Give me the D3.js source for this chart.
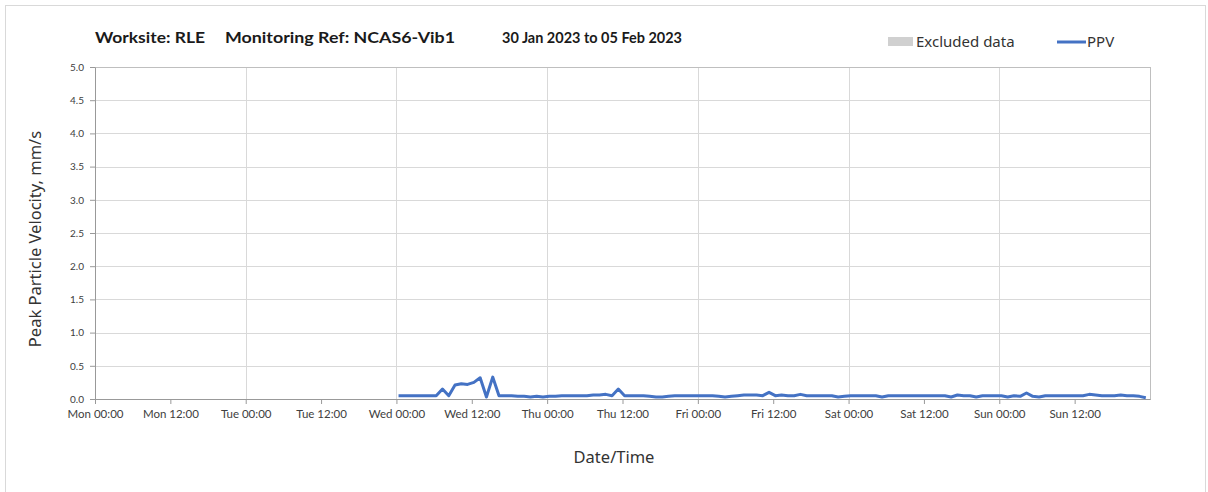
<!DOCTYPE html>
<html>
<head>
<meta charset="utf-8">
<script src="https://cdn.jsdelivr.net/npm/d3@7"></script>
<style>
  body { margin: 0; background: #fff; }
  svg { display: block; }
</style>
</head>
<body>
<svg width="1208" height="492"></svg>
<script>
// PPV readings, hourly, starting Wed 01 Feb 2023 00:20
var startTime = "2023-02-01T00:20:00Z";
var wedValues = [0.05,0.05,0.05,0.05,0.05,0.05,0.05,0.15,0.05,0.21,0.23,0.22,0.25,0.32,0.03,0.33,0.05,0.05,0.05,0.04,0.04,0.03,0.04,0.03];
var thuValues = [0.04,0.04,0.05,0.05,0.05,0.05,0.05,0.06,0.06,0.07,0.05,0.15,0.05,0.05,0.05,0.05,0.04,0.03,0.03,0.04,0.05,0.05,0.05,0.05];
var friValues = [0.05,0.05,0.05,0.04,0.03,0.04,0.05,0.06,0.06,0.06,0.05,0.10,0.05,0.06,0.05,0.05,0.07,0.05,0.05,0.05,0.05,0.05,0.03,0.04];
var satValues = [0.05,0.05,0.05,0.05,0.05,0.03,0.05,0.05,0.05,0.05,0.05,0.05,0.05,0.05,0.05,0.05,0.03,0.06,0.05,0.05,0.03,0.05,0.05,0.05];
var sunValues = [0.05,0.03,0.05,0.04,0.09,0.04,0.03,0.05,0.05,0.05,0.05,0.05,0.05,0.05,0.07,0.06,0.05,0.05,0.05,0.06,0.05,0.05,0.04,0.02];

var yTicks = [0, 0.5, 1, 1.5, 2, 2.5, 3, 3.5, 4, 4.5, 5];
var domainStart = "2023-01-30T00:00:00Z";
var domainEnd = "2023-02-06T00:00:00Z";

var titleParts = ["Worksite: RLE", "Monitoring Ref: NCAS6-Vib1", "30 Jan 2023 to 05 Feb 2023"];
var legendItems = ["Excluded data", "PPV"];

var ppv = wedValues.concat(thuValues, friValues, satValues, sunValues);
var t0 = new Date(startTime);
var data = ppv.map(function (v, i) {
    return { time: new Date(t0.getTime() + i * 3600000), value: v };
});

var margin = {top: 67, right: 58, bottom: 93, left: 95};
var width = 1208 - margin.left - margin.right;
var height = 492 - margin.top - margin.bottom;

var svg = d3.select("svg");

// outer chart border
svg.append("rect")
    .attr("x", 5.5).attr("y", 5.5)
    .attr("width", 1200).attr("height", 500)
    .attr("fill", "none")
    .attr("stroke", "#d9d9d9");

var x = d3.scaleUtc()
    .domain([new Date(domainStart), new Date(domainEnd)])
    .range([0, width]);

var y = d3.scaleLinear()
    .domain([0, 5])
    .range([height, 0]);

var main = svg.append("g")
    .attr("transform", "translate(" + margin.left + "," + margin.top + ")");

// horizontal grid
main.append("g")
    .selectAll("line")
    .data(yTicks)
    .enter().append("line")
    .attr("x1", 0).attr("x2", width)
    .attr("y1", function (d) { return Math.round(y(d)) + 0.5; })
    .attr("y2", function (d) { return Math.round(y(d)) + 0.5; })
    .attr("stroke", "#d9d9d9");

// vertical grid, one per day
main.append("g")
    .selectAll("line")
    .data(x.ticks(d3.utcDay.every(1)))
    .enter().append("line")
    .attr("x1", function (d) { return Math.round(x(d)) + 0.5; })
    .attr("x2", function (d) { return Math.round(x(d)) + 0.5; })
    .attr("y1", 0).attr("y2", height)
    .attr("stroke", "#d9d9d9");

// plot frame
main.append("rect")
    .attr("x", 0.5).attr("y", 0.5)
    .attr("width", width).attr("height", height)
    .attr("fill", "none")
    .attr("stroke", "#bfbfbf");

// x axis
var xAxis = d3.axisBottom(x)
    .ticks(d3.utcHour.every(12))
    .tickFormat(d3.utcFormat("%a %H:%M"))
    .tickSizeInner(5)
    .tickSizeOuter(0)
    .tickPadding(6);

var gx = main.append("g")
    .attr("transform", "translate(0," + height + ")")
    .call(xAxis);
gx.select(".domain").attr("stroke", "#999");
gx.selectAll(".tick line").attr("stroke", "#999");
gx.selectAll(".tick text")
    .attr("fill", "#404040")
    .style("font-family", "Lato, 'Open Sans', sans-serif")
    .style("font-size", "11.5px");
// last tick (next Mon 00:00) has no label
gx.selectAll(".tick").filter(function (d) { return +d === +new Date(domainEnd); }).remove();

// y axis
var yAxis = d3.axisLeft(y)
    .tickValues(yTicks)
    .tickFormat(d3.format(".1f"))
    .tickSizeInner(5)
    .tickSizeOuter(0)
    .tickPadding(6);

var gy = main.append("g").call(yAxis);
gy.select(".domain").attr("stroke", "#999");
gy.selectAll(".tick line").attr("stroke", "#999");
gy.selectAll(".tick text")
    .attr("fill", "#404040")
    .style("font-family", "Lato, 'Open Sans', sans-serif")
    .style("font-size", "10px");

// PPV line
var line = d3.line()
    .x(function (d) { return x(d.time); })
    .y(function (d) { return y(d.value); });

main.append("path")
    .datum(data)
    .attr("fill", "none")
    .attr("stroke", "#4472C4")
    .attr("stroke-width", 3)
    .attr("stroke-linejoin", "round")
    .attr("d", line);

// axis titles
svg.append("text")
    .attr("x", 614)
    .attr("y", 463)
    .attr("text-anchor", "middle")
    .attr("fill", "#333")
    .style("font-family", "'Noto Sans', 'Open Sans', sans-serif")
    .style("font-size", "16.5px")
    .text("Date/Time");

svg.append("text")
    .attr("transform", "translate(41," + 239 + ") rotate(-90)")
    .attr("text-anchor", "middle")
    .attr("fill", "#333")
    .style("font-family", "'Noto Sans', 'Open Sans', sans-serif")
    .style("font-size", "16.5px")
    .text("Peak Particle Velocity, mm/s");

// title
var titleX = [95, 225, 502];
var titleW = [110, 230, 180];
svg.append("g").selectAll("text")
    .data(titleParts)
    .enter().append("text")
    .attr("x", function (d, i) { return titleX[i]; })
    .attr("y", 43)
    .attr("fill", "#1a1a1a")
    .attr("textLength", function (d, i) { return titleW[i]; })
    .attr("lengthAdjust", "spacingAndGlyphs")
    .style("font-family", "Lato, 'Open Sans', sans-serif")
    .style("font-weight", "bold")
    .style("font-size", "15px")
    .text(function (d) { return d; });

// legend
var legend = svg.append("g");
legend.append("rect")
    .attr("x", 888).attr("y", 37)
    .attr("width", 25).attr("height", 9)
    .attr("fill", "#d0d0d0");
legend.append("text")
    .attr("x", 916).attr("y", 47)
    .attr("fill", "#333")
    .style("font-family", "'Noto Sans', 'Open Sans', sans-serif")
    .style("font-size", "15px")
    .text(legendItems[0]);
legend.append("line")
    .attr("x1", 1057).attr("x2", 1086)
    .attr("y1", 42).attr("y2", 42)
    .attr("stroke", "#4472C4")
    .attr("stroke-width", 3);
legend.append("text")
    .attr("x", 1087).attr("y", 47)
    .attr("fill", "#333")
    .style("font-family", "'Noto Sans', 'Open Sans', sans-serif")
    .style("font-size", "15px")
    .text(legendItems[1]);
</script>
</body>
</html>
